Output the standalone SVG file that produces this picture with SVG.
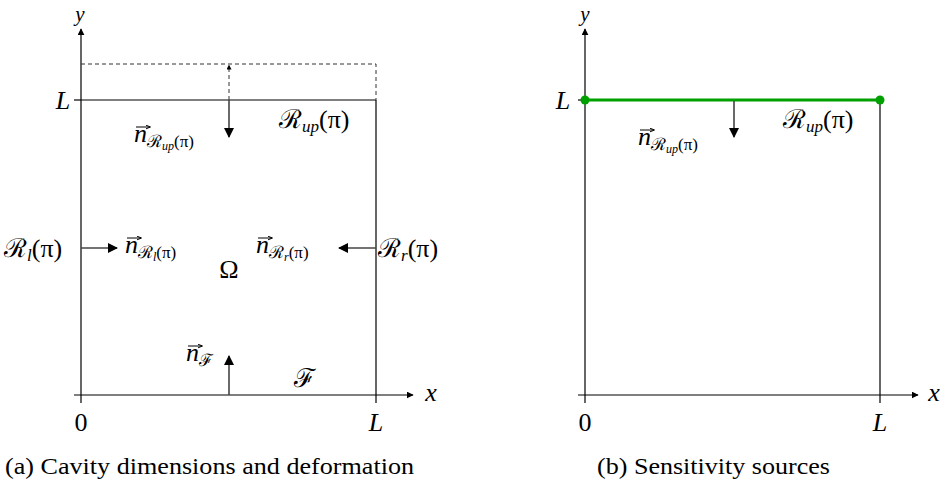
<svg xmlns="http://www.w3.org/2000/svg" width="941" height="486" viewBox="0 0 941 486">
<style>
.ax{stroke:#000;stroke-width:1.2;fill:none}
.bx{stroke:#000;stroke-width:1.2;fill:none}
.ds{stroke:#333;stroke-width:1;stroke-dasharray:4,3;fill:none}
.ar{stroke:#444;stroke-width:1.6;fill:none}
.vec{stroke:#000;stroke-width:1;fill:none}
text{fill:#000;font-family:"Liberation Serif","Times New Roman",serif}
.m{font-style:italic;font-size:26px}
.r{font-style:normal;font-size:26px}
.ylab{font-style:italic;font-size:21px}
.cal{font-style:normal}
.sub{font-size:17px}
.ss{font-size:12px}
.up{font-style:normal}
.cap{font-size:22.5px}
</style>
<defs>
<marker id="ah" viewBox="0 0 10 10" refX="9" refY="5" markerWidth="7" markerHeight="7" markerUnits="userSpaceOnUse" orient="auto"><path d="M0,0 L10,5 L0,10 z" fill="#000"/></marker>
<marker id="ahb" viewBox="0 0 10 10" refX="9" refY="5" markerWidth="10" markerHeight="10" markerUnits="userSpaceOnUse" orient="auto"><path d="M0,0 L10,5 L0,10 z" fill="#000"/></marker>
<marker id="ahs" viewBox="0 0 10 10" refX="9" refY="5" markerWidth="5" markerHeight="5" markerUnits="userSpaceOnUse" orient="auto"><path d="M0,0 L10,5 L0,10 z" fill="#000"/></marker>
<marker id="av" viewBox="0 0 10 10" refX="9" refY="5" markerWidth="5" markerHeight="5" markerUnits="userSpaceOnUse" orient="auto"><path d="M0,1 L10,5 L0,9" fill="none" stroke="#000" stroke-width="2"/></marker>
</defs>

<g id="panel-a">
<g id="axes-a">
<line class="ax" x1="74" y1="395" x2="413" y2="395" marker-end="url(#ah)"/>
<line class="ax" x1="81" y1="403" x2="81" y2="29" marker-end="url(#ah)"/>
<line class="ax" x1="376" y1="395" x2="376" y2="403"/>
<line class="ax" x1="74" y1="100" x2="81" y2="100"/>
</g>
<g id="cavity-a">
<line class="bx" x1="81" y1="100" x2="376" y2="100"/>
<line class="bx" x1="376" y1="100" x2="376" y2="395"/>
<polyline class="ds" points="81,64 376,64 376,100"/>
</g>
<g id="connectors-a">
<line class="ds" x1="229" y1="100" x2="229" y2="65" marker-end="url(#ahs)"/>
<line class="ar" x1="229" y1="100" x2="229" y2="137" marker-end="url(#ahb)"/>
<line class="ar" x1="81" y1="248" x2="117" y2="248" marker-end="url(#ahb)"/>
<line class="ar" x1="376" y1="248" x2="339" y2="248" marker-end="url(#ahb)"/>
<line class="ar" x1="229" y1="395" x2="229" y2="356" marker-end="url(#ahb)"/>
</g>
<g id="vector-accents-a">
<line class="vec" x1="136" y1="127" x2="150" y2="127" marker-end="url(#av)"/>
<line class="vec" x1="127" y1="238" x2="141" y2="238" marker-end="url(#av)"/>
<line class="vec" x1="258" y1="238" x2="272" y2="238" marker-end="url(#av)"/>
<line class="vec" x1="188" y1="346" x2="202" y2="346" marker-end="url(#av)"/>
</g>
<g id="labels-a">
<text class="ylab" x="80" y="21" text-anchor="middle">y</text>
<text class="m" x="431" y="401" text-anchor="middle">x</text>
<text class="r" x="81" y="431" text-anchor="middle">0</text>
<text class="m" x="376" y="431" text-anchor="middle">L</text>
<text class="m" x="63" y="109" text-anchor="middle">L</text>
<text class="m" x="279" y="128"><tspan class="cal">ℛ</tspan><tspan class="sub" dy="4">up</tspan><tspan class="r" dy="-4">(π)</tspan></text>
<text class="m" x="134" y="142">n<tspan class="sub cal" dy="5">ℛ</tspan><tspan class="ss" dy="3">up</tspan><tspan class="sub up" dy="-3">(π)</tspan></text>
<text class="m" x="4" y="257"><tspan class="cal">ℛ</tspan><tspan class="sub" dy="4">l</tspan><tspan class="r" dy="-4">(π)</tspan></text>
<text class="m" x="125" y="253">n<tspan class="sub cal" dy="5">ℛ</tspan><tspan class="ss" dy="3">l</tspan><tspan class="sub up" dy="-3">(π)</tspan></text>
<text class="m" x="256" y="253">n<tspan class="sub cal" dy="5">ℛ</tspan><tspan class="ss" dy="3">r</tspan><tspan class="sub up" dy="-3">(π)</tspan></text>
<text class="m" x="378" y="257"><tspan class="cal">ℛ</tspan><tspan class="sub" dy="4">r</tspan><tspan class="r" dy="-4">(π)</tspan></text>
<text class="r" x="229" y="278" text-anchor="middle">Ω</text>
<text class="m" x="186" y="361">n<tspan class="sub cal" dy="5">ℱ</tspan></text>
<text class="m cal" x="304" y="387" text-anchor="middle">ℱ</text>
<text class="cap" x="5" y="474" textLength="409" lengthAdjust="spacingAndGlyphs">(a) Cavity dimensions and deformation</text>
</g>
</g>

<g id="panel-b">
<g id="axes-b">
<line class="ax" x1="578" y1="395" x2="918" y2="395" marker-end="url(#ah)"/>
<line class="ax" x1="585" y1="403" x2="585" y2="29" marker-end="url(#ah)"/>
<line class="ax" x1="880" y1="395" x2="880" y2="403"/>
<line class="ax" x1="578" y1="100" x2="585" y2="100"/>
</g>
<g id="cavity-b">
<line class="bx" x1="880" y1="100" x2="880" y2="395"/>
</g>
<g id="sensitivity-source">
<line x1="585" y1="100" x2="880" y2="100" stroke="#00a000" stroke-width="3"/>
<circle cx="585" cy="100" r="4.5" fill="#00a000"/>
<circle cx="880" cy="100" r="4.5" fill="#00a000"/>
</g>
<g id="connectors-b">
<line class="ar" x1="734" y1="101" x2="734" y2="137" marker-end="url(#ahb)"/>
</g>
<g id="vector-accents-b">
<line class="vec" x1="640" y1="130" x2="654" y2="130" marker-end="url(#av)"/>
</g>
<g id="labels-b">
<text class="ylab" x="585" y="21" text-anchor="middle">y</text>
<text class="m" x="934" y="401" text-anchor="middle">x</text>
<text class="r" x="585" y="431" text-anchor="middle">0</text>
<text class="m" x="880" y="431" text-anchor="middle">L</text>
<text class="m" x="563" y="109" text-anchor="middle">L</text>
<text class="m" x="783" y="128"><tspan class="cal">ℛ</tspan><tspan class="sub" dy="4">up</tspan><tspan class="r" dy="-4">(π)</tspan></text>
<text class="m" x="638" y="145">n<tspan class="sub cal" dy="5">ℛ</tspan><tspan class="ss" dy="3">up</tspan><tspan class="sub up" dy="-3">(π)</tspan></text>
<text class="cap" x="597" y="474" textLength="233" lengthAdjust="spacingAndGlyphs">(b) Sensitivity sources</text>
</g>
</g>
</svg>
